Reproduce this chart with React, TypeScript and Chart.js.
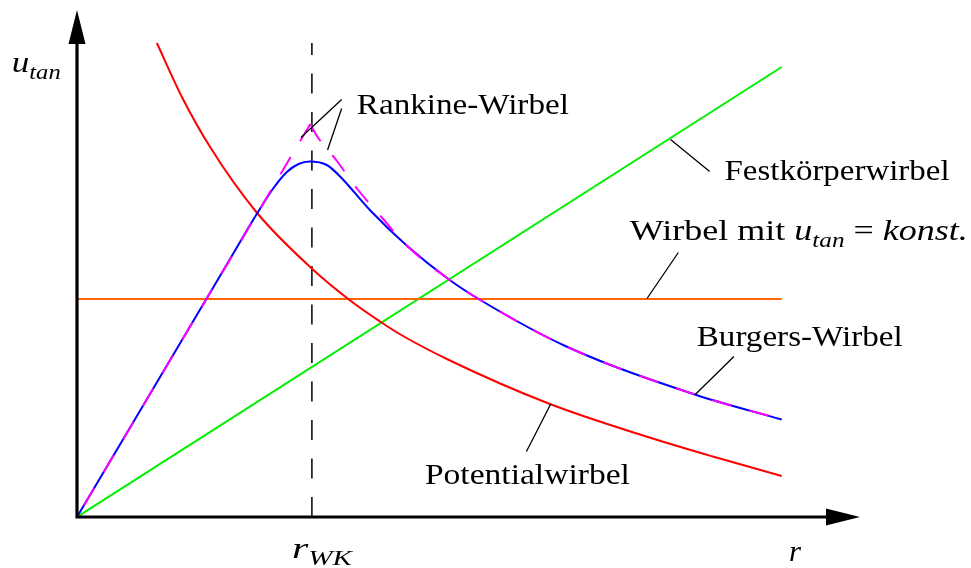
import React, { useEffect, useRef } from "react";
import { Chart, registerables } from "chart.js";

Chart.register(...registerables);

// ---------- data (r = radius, u = tangential velocity, arbitrary units) ----------
const rMax = 10;
const uMax = 10.14;
const rWK = 3;

const festR = [0, 9];
const festU = [0, 9];

const konstR = [0, 9];
const konstU = [4.36, 4.36];

const potR = [1.02, 1.34, 1.70, 2.29, 2.97, 3.48, 3.87, 4.12, 4.75, 6.04, 7.27, 8.12, 9.0];
const potU = [9.48, 8.40, 7.40, 6.10, 5.01, 4.34, 3.91, 3.66, 3.14, 2.26, 1.61, 1.21, 0.82];

const burgR = [0, 0.97, 1.61, 2.03, 2.21, 2.38, 2.51, 2.68, 2.83, 2.97, 3.19, 3.36, 3.74, 4.21, 4.76, 5.14, 6.25, 7.91, 9.0];
const burgU = [0, 2.56, 4.25, 5.36, 5.84, 6.27, 6.58, 6.90, 7.06, 7.11, 7.04, 6.81, 6.14, 5.43, 4.74, 4.35, 3.41, 2.44, 1.95];

const rankCoreR = [2.98, 0];
const rankCoreU = [7.86, 0];
const rankOuterR = [2.98, 3.06, 3.32, 3.57, 3.91, 4.21, 4.76, 5.14, 6.25, 7.91, 9.0];
const rankOuterU = [7.86, 7.63, 7.12, 6.58, 5.96, 5.43, 4.74, 4.35, 3.41, 2.44, 1.95];

const markerR = [rWK, rWK];
const markerU = [0, 9.48];

// ---------- annotations ----------
type Run = { t: string; it?: boolean; sub?: boolean };
const labelRuns: Run[][] = [
  [{ t: "Rankine-Wirbel" }],
  [{ t: "Festkörperwirbel" }],
  [{ t: "Wirbel mit " }, { t: "u", it: true }, { t: "tan", it: true, sub: true }, { t: " = " }, { t: "konst.", it: true }],
  [{ t: "Burgers-Wirbel" }],
  [{ t: "Potentialwirbel" }],
  [{ t: "u", it: true }, { t: "tan", it: true, sub: true }],
  [{ t: "r", it: true }, { t: "WK", it: true, sub: true }],
  [{ t: "r", it: true }],
];
const labelR = [3.574, 8.27, 7.06, 7.915, 4.443, -0.834, 2.746, 9.093];
const labelU = [8.07, 6.75, 5.55, 3.42, 0.66, 8.9, -0.82, -0.88];
const labelW = [212, 225, 338, 206, 205, 49, 60, 12];

const leaders: number[][] = [
  [3.38, 8.35, 2.86, 7.59],
  [3.38, 8.17, 3.2, 7.34],
  [7.58, 7.55, 8.08, 6.91],
  [7.68, 5.29, 7.28, 4.37],
  [8.39, 3.21, 7.89, 2.44],
  [6.05, 2.26, 5.74, 1.31],
];

const FONT = "'Liberation Serif', 'Times New Roman', Times, serif";
const FONT_SIZE = 30;
const SUB_SHIFT = 7;

const pts = (xs: number[], ys: number[]) => xs.map((x, i) => ({ x, y: ys[i] }));

function drawRuns(ctx: CanvasRenderingContext2D, runs: Run[], x: number, y: number, target: number) {
  const fontFor = (r: Run) =>
    `${r.it ? "italic " : ""}${r.sub ? Math.round(FONT_SIZE * 0.7) : FONT_SIZE}px ${FONT}`;
  let w = 0;
  for (const r of runs) {
    ctx.font = fontFor(r);
    w += ctx.measureText(r.t).width;
  }
  const k = target / w;
  ctx.save();
  ctx.translate(x, y);
  ctx.scale(k, 1);
  ctx.fillStyle = "#000";
  ctx.textBaseline = "alphabetic";
  ctx.textAlign = "left";
  let cx = 0;
  for (const r of runs) {
    ctx.font = fontFor(r);
    ctx.fillText(r.t, cx, r.sub ? SUB_SHIFT : 0);
    cx += ctx.measureText(r.t).width;
  }
  ctx.restore();
}

const decorPlugin = {
  id: "decor",
  afterDatasetsDraw(chart: any) {
    const ctx: CanvasRenderingContext2D = chart.ctx;
    const xs = chart.scales.x;
    const ys = chart.scales.y;
    const px = (r: number) => xs.getPixelForValue(r);
    const py = (u: number) => ys.getPixelForValue(u);

    const ox = px(0);
    const oy = py(0);
    const xTip = px(rMax);
    const yTip = py(uMax);
    const headLen = 34;
    const headHalf = 8.5;

    ctx.save();
    ctx.strokeStyle = "#000";
    ctx.fillStyle = "#000";
    ctx.lineWidth = 3.2;
    ctx.lineCap = "butt";
    ctx.beginPath();
    ctx.moveTo(ox - 1.6, oy);
    ctx.lineTo(xTip - headLen + 2, oy);
    ctx.moveTo(ox, oy + 1.6);
    ctx.lineTo(ox, yTip + headLen - 2);
    ctx.stroke();
    ctx.beginPath();
    ctx.moveTo(xTip, oy);
    ctx.lineTo(xTip - headLen, oy - headHalf);
    ctx.lineTo(xTip - headLen, oy + headHalf);
    ctx.closePath();
    ctx.fill();
    ctx.beginPath();
    ctx.moveTo(ox, yTip);
    ctx.lineTo(ox - headHalf, yTip + headLen);
    ctx.lineTo(ox + headHalf, yTip + headLen);
    ctx.closePath();
    ctx.fill();

    ctx.lineWidth = 1.3;
    ctx.beginPath();
    for (const l of leaders) {
      ctx.moveTo(px(l[0]), py(l[1]));
      ctx.lineTo(px(l[2]), py(l[3]));
    }
    ctx.stroke();
    ctx.restore();

    labelRuns.forEach((runs, i) => {
      drawRuns(ctx, runs, px(labelR[i]), py(labelU[i]), labelW[i]);
    });
  },
};

export default function App() {
  const ref = useRef<HTMLCanvasElement>(null);

  useEffect(() => {
    if (!ref.current) return;
    const common = { pointRadius: 0, pointHoverRadius: 0, borderWidth: 2, fill: false, showLine: true };
    const chart = new Chart(ref.current, {
      type: "scatter",
      data: {
        datasets: [
          { ...common, label: "Rankine-Wirbel (außen)", data: pts(rankOuterR, rankOuterU), borderColor: "#ff00ff", borderDash: [20, 18.5], cubicInterpolationMode: "monotone" },
          { ...common, label: "Rankine-Wirbel (Kern)", data: pts(rankCoreR, rankCoreU), borderColor: "#ff00ff", borderDash: [20, 18.5], tension: 0 },
          { ...common, label: "Burgers-Wirbel", data: pts(burgR, burgU), borderColor: "#0000ff", cubicInterpolationMode: "monotone" },
          { ...common, label: "Potentialwirbel", data: pts(potR, potU), borderColor: "#ff0000", cubicInterpolationMode: "monotone" },
          { ...common, label: "Wirbel mit u = konst.", data: pts(konstR, konstU), borderColor: "#ff6600", tension: 0 },
          { ...common, label: "Festkörperwirbel", data: pts(festR, festU), borderColor: "#00f000", tension: 0 },
          { ...common, label: "r_WK", data: pts(markerR, markerU), borderColor: "#000000", borderWidth: 1.5, borderDash: [20, 18.5], tension: 0 },
        ],
      } as any,
      options: {
        animation: false,
        responsive: false,
        maintainAspectRatio: false,
        devicePixelRatio: 1,
        layout: { padding: { left: 77, right: 111, top: 10, bottom: 51 } },
        scales: {
          x: { type: "linear", min: 0, max: rMax, display: false },
          y: { type: "linear", min: 0, max: uMax, display: false },
        },
        plugins: {
          legend: { display: false },
          tooltip: { enabled: false },
        },
        events: [],
      } as any,
      plugins: [decorPlugin],
    });
    return () => chart.destroy();
  }, []);

  return (
    <div style={{ position: "absolute", left: 0, top: 0, width: 971, height: 568, background: "#fff" }}>
      <canvas ref={ref} width={971} height={568} style={{ display: "block", width: 971, height: 568 }} />
    </div>
  );
}
